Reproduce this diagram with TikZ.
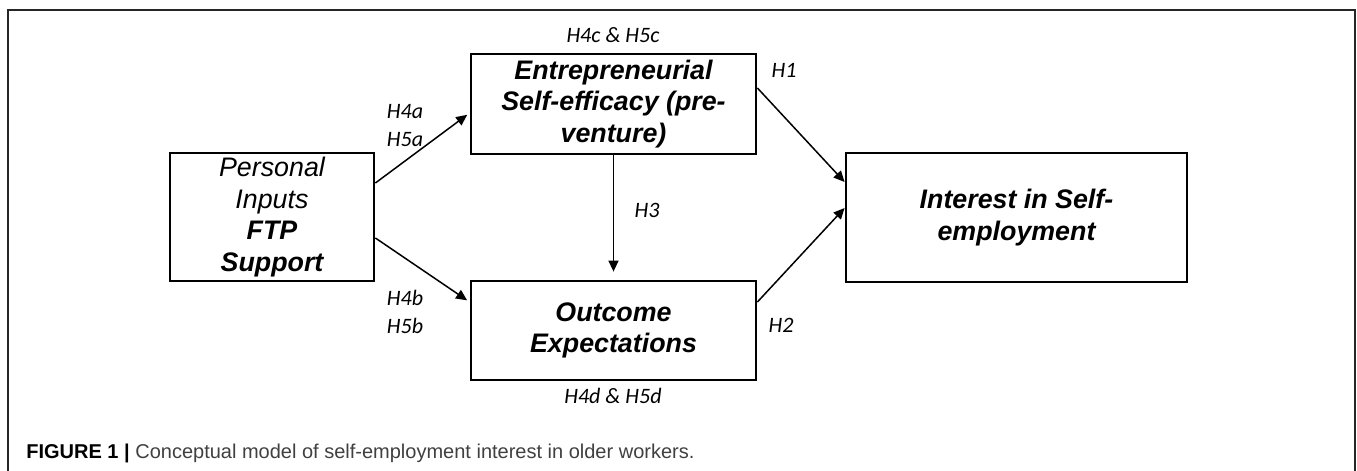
\documentclass[tikz,border=0pt]{standalone}
\usepackage{fontspec}
\setmainfont{Liberation Sans}
\newfontfamily\hypfont{Carlito}
\usetikzlibrary{arrows.meta}

\begin{document}
\begin{tikzpicture}[x=0.5pt,y=0.5pt]
		\tikzstyle{every node}+=[inner sep=0pt]
		\tikzstyle{box}=[draw, line width=1.4pt, align=center, font=\fontsize{13.4}{15.75}\selectfont\bfseries\itshape]
		\tikzstyle{hyp}=[font=\hypfont\itshape\fontsize{11}{13}\selectfont]
		\tikzstyle{link}=[line width=0.75pt, -{Triangle[length=5.5pt,width=5pt]}]
		\useasboundingbox (0,0) rectangle (1357,-471);
		\draw [black!85, line width=0.6pt] (8,-471) -- (8,-10) -- (1355,-10) -- (1355,-471);
		\node [box, minimum width=102pt, minimum height=64pt] (pers) at (272,-217) {{\mdseries Personal}\\{\mdseries Inputs}\\FTP\\Support};
		\node [box, minimum width=142.5pt, minimum height=50pt] (ese) at (613.5,-104) {Entrepreneurial\\Self-efficacy (pre-\\venture)};
		\node [box, minimum width=142.5pt, minimum height=49.5pt] (oe) at (613.5,-330.5) {Outcome\\Expectations};
		\node [box, minimum width=170.5pt, minimum height=64.5pt] (intr) at (1016.5,-217.5) {Interest in Self-\\employment};
		\node [hyp] (h4c) at (613,-35) {H4c \& H5c};
		\node [hyp] (h4d) at (613,-396) {H4d \& H5d};
		\node [hyp] (h4a) at (405,-112) {H4a};
		\node [hyp] (h5a) at (405,-140) {H5a};
		\node [hyp] (h4b) at (405,-298) {H4b};
		\node [hyp] (h5b) at (405,-326) {H5b};
		\node [hyp] (h3) at (647,-210) {H3};
		\node [hyp] (h1) at (784,-70) {H1};
		\node [hyp] (h2) at (781,-325) {H2};
		\draw [link, shorten >=1.5pt] ([yshift=17pt]pers.east) -- ([yshift=-4.5pt]ese.west);
		\draw [link, shorten >=1.5pt] ([yshift=-10.5pt]pers.east) -- ([yshift=14.25pt]oe.west);
		\draw [link, shorten >=4pt] (ese.south) -- (oe.north);
		\draw [link] ([yshift=8pt]ese.east) -- ([yshift=17.75pt]intr.west);
		\draw [link] ([yshift=14.25pt]oe.east) -- ([yshift=4.75pt]intr.west);
		\node [anchor=west, font=\fontsize{10}{12}\selectfont] (capt) at (26,-453) {\textbf{FIGURE 1 |} {\color{black!75}Conceptual model of self-employment interest in older workers.}};
	\end{tikzpicture}
\end{document}
